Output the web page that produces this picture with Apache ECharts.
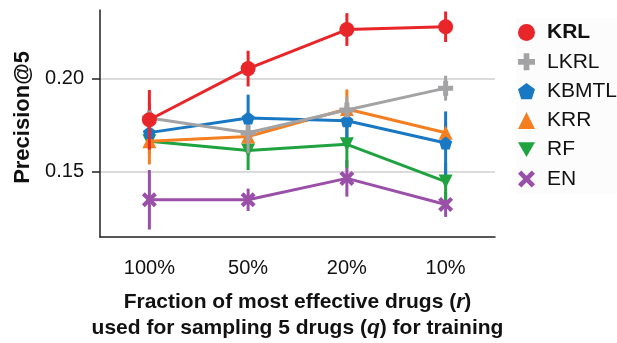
<!DOCTYPE html>
<html>
<head>
<meta charset="utf-8">
<script src="https://cdn.jsdelivr.net/npm/echarts@6/dist/echarts.min.js"></script>
<style>
  html, body { margin: 0; padding: 0; background: #fff; }
  #chart { width: 617px; height: 343px; }
</style>
</head>
<body>
<div id="chart"></div>
<script>
// Fraction of most effective drugs used for sampling
const categories = ['100%', '50%', '20%', '10%'];
const yTicks = [0.15, 0.20];

// Mean Precision@5 per method and its error half-width
const krl = [0.178, 0.2055, 0.2265, 0.228];
const krlErr = [0.016, 0.0096, 0.0088, 0.0082];
const lkrl = [0.179, 0.171, 0.1833, 0.195];
const lkrlErr = [0.008, 0.011, 0.007, 0.0067];
const kbmtl = [0.1711, 0.179, 0.1775, 0.1655];
const kbmtlErr = [0.008, 0.0125, 0.009, 0.017];
const krr = [0.1665, 0.169, 0.1838, 0.171];
const krrErr = [0.0125, 0.008, 0.0105, 0.006];
const rf = [0.1665, 0.1615, 0.1648, 0.1448];
const rfErr = [0.007, 0.0105, 0.0125, 0.01];
const en = [0.135, 0.135, 0.1465, 0.1325];
const enErr = [0.016, 0.006, 0.0098, 0.0067];

const PLUS = 'path://M-1,-3H1V-1H3V1H1V3H-1V1H-3V-1H-1Z';
const CROSS = 'path://M-2.2,-3.6L0,-1.4L2.2,-3.6L3.6,-2.2L1.4,0L3.6,2.2L2.2,3.6L0,1.4L-2.2,3.6L-3.6,2.2L-1.4,0L-3.6,-2.2Z';
const PENTAGON = 'path://M0,-1L0.951,-0.309L0.588,0.809L-0.588,0.809L-0.951,-0.309Z';
const TRI_DOWN = 'path://M-1,-0.87L1,-0.87L0,0.87Z';

const methods = [
  { name: 'KRL',   mean: krl,   err: krlErr,   color: '#e8262a', symbol: 'circle',   size: 15, z: 12 },
  { name: 'LKRL',  mean: lkrl,  err: lkrlErr,  color: '#a3a3a5', symbol: PLUS,       size: 15, z: 11 },
  { name: 'KBMTL', mean: kbmtl, err: kbmtlErr, color: '#1878c3', symbol: PENTAGON,   size: 13, z: 10 },
  { name: 'KRR',   mean: krr,   err: krrErr,   color: '#f47f20', symbol: 'triangle', size: 14, z: 9 },
  { name: 'RF',    mean: rf,    err: rfErr,    color: '#1fa340', symbol: TRI_DOWN,   size: 14, z: 8 },
  { name: 'EN',    mean: en,    err: enErr,    color: '#9a4fa8', symbol: CROSS,      size: 15, z: 7 }
];

const FONT = '"Liberation Sans", Arial, Helvetica, sans-serif';

const series = [];
methods.forEach(m => {
  series.push({
    name: m.name,
    type: 'line',
    data: m.mean,
    symbol: m.symbol,
    symbolSize: m.size,
    showAllSymbol: true,
    z: m.z + 1,
    lineStyle: { color: m.color, width: 3 },
    itemStyle: { color: m.color },
    emphasis: { disabled: true },
    animation: false
  });
  series.push({
    name: m.name + ' error',
    type: 'custom',
    z: m.z,
    data: m.mean.map((v, i) => [i, v - m.err[i], v + m.err[i]]),
    encode: { x: 0, y: [1, 2] },
    renderItem: function (params, api) {
      const lo = api.coord([api.value(0), api.value(1)]);
      const hi = api.coord([api.value(0), api.value(2)]);
      return {
        type: 'line',
        shape: { x1: lo[0], y1: lo[1], x2: hi[0], y2: hi[1] },
        style: { stroke: m.color, lineWidth: 3 }
      };
    },
    animation: false
  });
});

const chart = echarts.init(document.getElementById('chart'), null, { renderer: 'canvas' });
chart.setOption({
  backgroundColor: '#ffffff',
  animation: false,
  textStyle: { fontFamily: FONT },
  grid: { left: 100, right: 122, top: 10, bottom: 106, containLabel: false, outerBoundsMode: 'none' },
  legend: {
    orient: 'vertical',
    left: 516,
    top: 18,
    itemWidth: 17,
    itemHeight: 17,
    itemGap: 8.3,
    selectedMode: false,
    backgroundColor: '#fcfcfc',
    padding: [4, 6, 4, 2],
    textStyle: { fontFamily: FONT, fontSize: 21, lineHeight: 17, color: '#111', padding: [0, 0, 0, 7] },
    data: [
      { name: 'KRL', icon: 'circle', textStyle: { fontWeight: 'bold' } },
      { name: 'LKRL', icon: PLUS },
      { name: 'KBMTL', icon: PENTAGON },
      { name: 'KRR', icon: 'triangle' },
      { name: 'RF', icon: TRI_DOWN },
      { name: 'EN', icon: CROSS }
    ]
  },
  xAxis: {
    type: 'category',
    data: categories,
    boundaryGap: true,
    axisLine: { lineStyle: { color: '#222', width: 1.5 } },
    axisTick: { alignWithLabel: true, length: 7, lineStyle: { color: '#222', width: 1.5 } },
    axisLabel: { fontFamily: FONT, fontSize: 20, color: '#111', margin: 21 },
    name: '{b|Fraction of most effective drugs (}{i|r}{b|)}\n{b|used for sampling 5 drugs (}{i|q}{b|) for training}',
    nameLocation: 'middle',
    nameGap: 52,
    nameTextStyle: {
      lineHeight: 26,
      rich: {
        b: { fontFamily: FONT, fontSize: 21, fontWeight: 'bold', color: '#111', lineHeight: 26 },
        i: { fontFamily: FONT, fontSize: 21, fontWeight: 'bold', fontStyle: 'italic', color: '#111', lineHeight: 26 }
      }
    }
  },
  yAxis: {
    type: 'value',
    min: 0.115,
    max: 0.237,
    axisLine: { show: true, lineStyle: { color: '#222', width: 1.5 } },
    axisTick: { show: true, length: 8, customValues: yTicks, lineStyle: { color: '#222', width: 1.5 } },
    axisLabel: {
      fontFamily: FONT, fontSize: 20, color: '#111', margin: 16,
      customValues: yTicks,
      formatter: v => v.toFixed(2)
    },
    splitLine: { show: true, lineStyle: { color: '#cfcfcf', width: 1.5 } },
    name: 'Precision@5',
    nameLocation: 'middle',
    nameRotate: 90,
    nameGap: 64,
    nameTextStyle: { fontFamily: FONT, fontSize: 22, fontWeight: 'bold', color: '#111', padding: [0, 0, 0, 12] }
  },
  series: series
});
</script>
</body>
</html>
